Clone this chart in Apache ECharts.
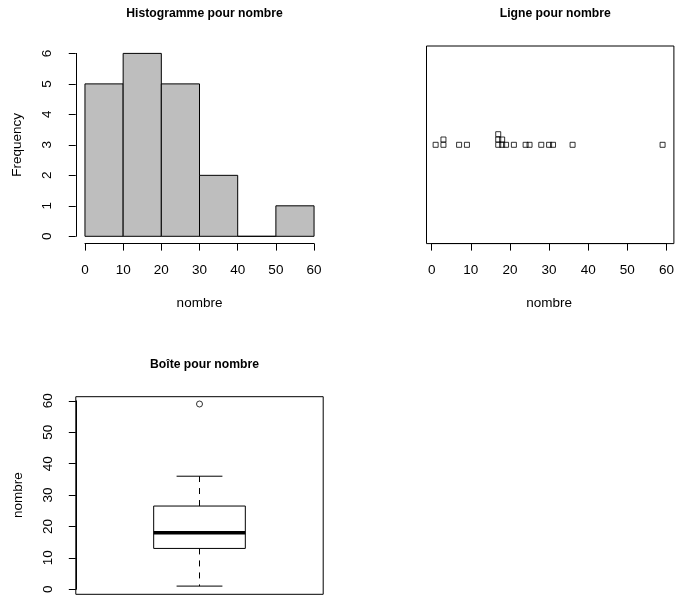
<!DOCTYPE html>
<html>
<head>
<meta charset="utf-8">
<script src="https://cdn.jsdelivr.net/npm/echarts@6/dist/echarts.min.js"></script>
<style>
html,body{margin:0;padding:0;background:#fff;}
#chart{width:677px;height:596px;}
</style>
</head>
<body>
<div id="chart"></div>
<script>
// ---- data ----
const histBreaks = [0, 10, 20, 30, 40, 50, 60];
const histCounts = [5, 6, 5, 2, 0, 1];
const stripValues = [1, 3, 3, 7, 9, 17, 17, 17, 18, 18, 19, 21, 24, 25, 28, 30, 31, 36, 59];
const boxStats = [1, 13, 18, 26.5, 36]; // lower whisker, Q1, median, Q3, upper whisker
const boxOutliers = [59];
const xTickValues = [0, 10, 20, 30, 40, 50, 60];
const yTickValuesHist = [0, 1, 2, 3, 4, 5, 6];
const yTickValuesBox = [0, 10, 20, 30, 40, 50, 60];

const FONT = 'Liberation Sans';
const BLACK = '#000';
const FS = 13.5;

// histogram bins
const histData = histCounts.map((c, i) => [histBreaks[i], histBreaks[i + 1], c]);

// stacked strip: level = number of earlier equal values
const seen = {};
const stripData = stripValues.map(v => {
  const k = seen[v] || 0;
  seen[v] = k + 1;
  return [v, k];
});

const chart = echarts.init(document.getElementById('chart'), null, {renderer: 'canvas'});

const tickStyle = {show: true, length: 7, lineStyle: {color: BLACK, width: 1}};
const lineStyle = {show: true, onZero: false, lineStyle: {color: BLACK, width: 1}};
const labelStyle = {color: BLACK, fontSize: FS, fontFamily: FONT};
const nameStyle = {color: BLACK, fontSize: FS, fontFamily: FONT};
const hidden = {show: false};

// geometry
const H = {left: 84.96, top: 53.4, width: 229.1, height: 182.9};   // histogram 0..60 x 0..6
const S = {left: 426.5, top: 46, width: 247.4, height: 197.6};     // strip plot region
const B = {left: 75.8, top: 396.7, width: 247.4, height: 197.6};   // box plot region
const sx0 = S.left + 1.32 * S.width / 62.64;
const sw = 60 * S.width / 62.64;
const by60 = B.top + 1.32 * B.height / 62.64;
const bh = 60 * B.height / 62.64;
const levelPx = 5.3;
const levelRange = (S.height / 2) / levelPx;

const titleStyle = {fontFamily: FONT, fontSize: 12.2, fontWeight: 'bold', color: BLACK};

const option = {
  animation: false,
  backgroundColor: '#fff',
  title: [
    {text: 'Histogramme pour nombre', left: 199.5, top: 3, textAlign: 'center', textStyle: titleStyle},
    {text: 'Ligne pour nombre', left: S.left + S.width / 2, top: 3, textAlign: 'center', textStyle: titleStyle},
    {text: 'Boîte pour nombre', left: 199.5, top: 354, textAlign: 'center', textStyle: titleStyle}
  ],
  grid: [
    {left: H.left, top: H.top, width: H.width, height: H.height, show: false},
    {left: sx0, top: S.top, width: sw, height: S.height, show: false},
    {left: S.left, top: S.top, width: S.width, height: S.height, show: true,
     borderColor: BLACK, borderWidth: 1, backgroundColor: 'transparent'},
    {left: B.left, top: by60, width: B.width, height: bh, show: false},
    {left: B.left, top: B.top, width: B.width, height: B.height, show: true,
     borderColor: BLACK, borderWidth: 1, backgroundColor: 'transparent'}
  ],
  xAxis: [
    {gridIndex: 0, type: 'value', min: 0, max: 60, interval: 10, offset: 7.3,
     axisLine: lineStyle, axisTick: tickStyle, splitLine: hidden,
     axisLabel: Object.assign({margin: 20}, labelStyle),
     name: 'nombre', nameLocation: 'middle', nameGap: 53, nameTextStyle: nameStyle},
    {gridIndex: 1, type: 'value', min: 0, max: 60, interval: 10,
     axisLine: lineStyle, axisTick: tickStyle, splitLine: hidden,
     axisLabel: Object.assign({margin: 20}, labelStyle),
     name: 'nombre', nameLocation: 'middle', nameGap: 53, nameTextStyle: nameStyle},
    {gridIndex: 2, type: 'value', min: 0, max: 1, show: false},
    {gridIndex: 3, type: 'value', min: 0.46, max: 1.54, show: false},
    {gridIndex: 4, type: 'value', min: 0, max: 1, show: false}
  ],
  yAxis: [
    {gridIndex: 0, type: 'value', min: 0, max: 6, interval: 1, offset: 9.2,
     axisLine: lineStyle, axisTick: tickStyle, splitLine: hidden,
     axisLabel: Object.assign({margin: 21, rotate: 90}, labelStyle),
     name: 'Frequency', nameLocation: 'middle', nameGap: 51, nameTextStyle: nameStyle},
    {gridIndex: 1, type: 'value', min: -levelRange, max: levelRange, show: false},
    {gridIndex: 2, type: 'value', min: 0, max: 1, show: false},
    {gridIndex: 3, type: 'value', min: 0, max: 60, interval: 10,
     axisLine: lineStyle, axisTick: tickStyle, splitLine: hidden,
     axisLabel: Object.assign({margin: 21, rotate: 90}, labelStyle),
     name: 'nombre', nameLocation: 'middle', nameGap: 51, nameTextStyle: nameStyle},
    {gridIndex: 4, type: 'value', min: 0, max: 1, show: false}
  ],
  series: [
    {
      type: 'custom', xAxisIndex: 0, yAxisIndex: 0, data: histData, clip: false,
      renderItem: function (params, api) {
        const p0 = api.coord([api.value(0), api.value(2)]);
        const p1 = api.coord([api.value(1), 0]);
        return {
          type: 'rect',
          shape: {x: p0[0], y: p0[1], width: p1[0] - p0[0], height: p1[1] - p0[1]},
          style: {fill: '#BEBEBE', stroke: BLACK, lineWidth: 1}
        };
      }
    },
    {
      type: 'scatter', xAxisIndex: 1, yAxisIndex: 1, data: stripData,
      symbol: 'rect', symbolSize: 5, clip: false,
      itemStyle: {color: 'rgba(0,0,0,0)', borderColor: BLACK, borderWidth: 1}
    },
    {
      type: 'custom', xAxisIndex: 3, yAxisIndex: 3, clip: false,
      data: [[1].concat(boxStats)],
      renderItem: function (params, api) {
        const x = api.value(0);
        const lo = api.value(1), q1 = api.value(2), med = api.value(3), q3 = api.value(4), hi = api.value(5);
        const L = api.coord([x - 0.2, q3]);
        const R = api.coord([x + 0.2, q1]);
        const cL = api.coord([x - 0.1, lo])[0];
        const cR = api.coord([x + 0.1, lo])[0];
        const cx = api.coord([x, med])[0];
        const yLo = api.coord([x, lo])[1];
        const yHi = api.coord([x, hi])[1];
        const yMed = api.coord([x, med])[1];
        const s = {stroke: BLACK, lineWidth: 1, fill: null};
        return {
          type: 'group',
          children: [
            {type: 'line', shape: {x1: cx, y1: R[1], x2: cx, y2: yLo}, style: Object.assign({lineDash: [6, 6]}, s)},
            {type: 'line', shape: {x1: cx, y1: L[1], x2: cx, y2: yHi}, style: Object.assign({lineDash: [6, 6]}, s)},
            {type: 'line', shape: {x1: cL, y1: yLo, x2: cR, y2: yLo}, style: s},
            {type: 'line', shape: {x1: cL, y1: yHi, x2: cR, y2: yHi}, style: s},
            {type: 'rect', shape: {x: L[0], y: L[1], width: R[0] - L[0], height: R[1] - L[1]},
             style: {fill: '#fff', stroke: BLACK, lineWidth: 1}},
            {type: 'line', shape: {x1: L[0], y1: yMed, x2: R[0], y2: yMed}, style: {stroke: BLACK, lineWidth: 3.5}}
          ]
        };
      }
    },
    {
      type: 'scatter', xAxisIndex: 3, yAxisIndex: 3, data: boxOutliers.map(v => [1, v]),
      symbol: 'circle', symbolSize: 6, clip: false,
      itemStyle: {color: 'rgba(0,0,0,0)', borderColor: BLACK, borderWidth: 1}
    }
  ]
};
chart.setOption(option);
</script>
</body>
</html>
